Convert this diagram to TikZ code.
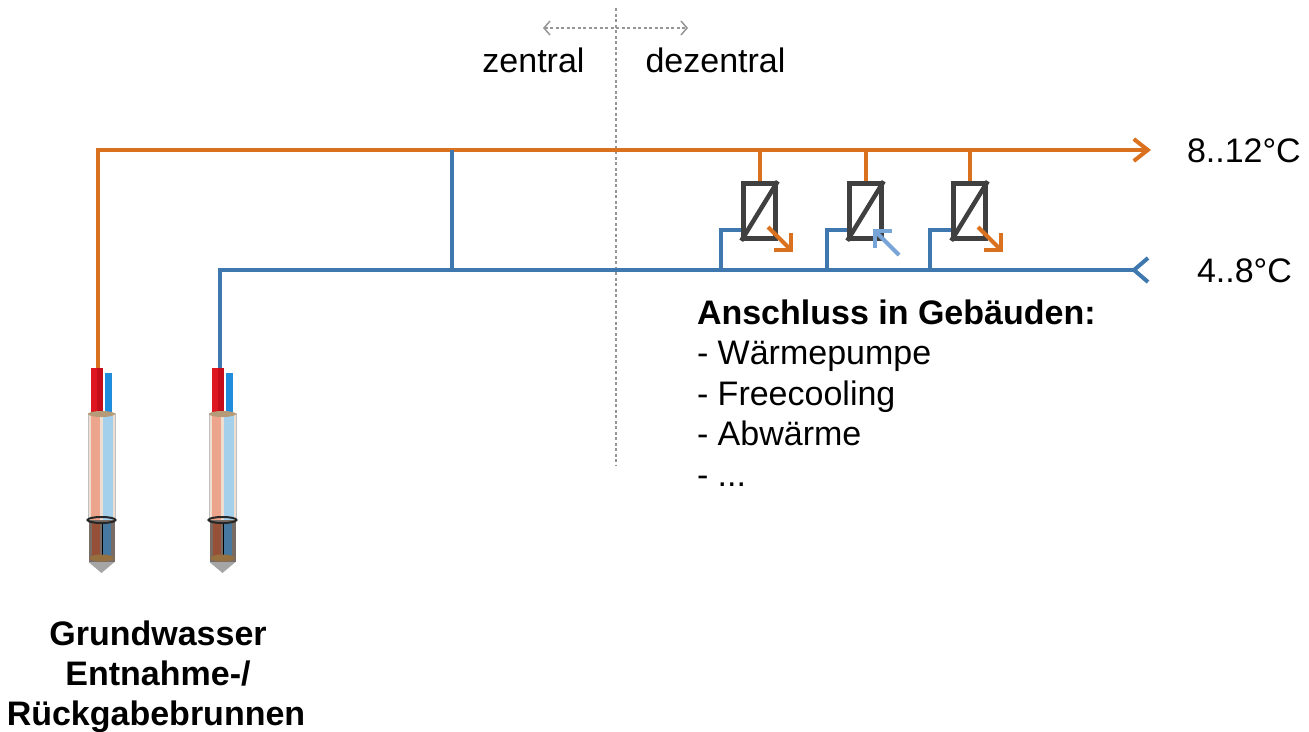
\documentclass[tikz,border=0pt]{standalone}
\usepackage{fontspec}
\setmainfont{Liberation Sans}
\usetikzlibrary{arrows.meta,calc}
\definecolor{ohot}{RGB}{217,113,31}
\definecolor{bcold}{RGB}{63,119,175}
\definecolor{hxgray}{RGB}{64,64,64}
\definecolor{lblue}{RGB}{120,165,215}
\definecolor{guidegray}{RGB}{150,150,150}
\definecolor{wred}{RGB}{222,22,32}
\definecolor{wredd}{RGB}{196,12,26}
\definecolor{wblue}{RGB}{32,140,220}
\definecolor{wbody}{RGB}{238,222,210}
\definecolor{wsalmon}{RGB}{236,165,140}
\definecolor{wsky}{RGB}{165,208,236}
\definecolor{wcup}{RGB}{120,108,100}
\definecolor{wcupred}{RGB}{150,80,55}
\definecolor{wcupblue}{RGB}{70,120,160}
\definecolor{wbrown}{RGB}{150,112,62}
\definecolor{wcone}{RGB}{165,165,165}
\tikzset{
  hot/.style={draw=ohot, line width=4pt},
  cold/.style={draw=bcold, line width=4pt},
  hxbox/.style={draw=hxgray, line width=4.5pt, minimum width=32pt, minimum height=55pt, inner sep=0pt},
  guide/.style={draw=guidegray, line width=1.5pt, dash pattern=on 3pt off 2.5pt},
  barb/.style={-{Straight Barb[length=12pt,width=24pt]}},
  lbl/.style={anchor=base, inner sep=0pt, outer sep=0pt},
  % borehole well with probe tubes, origin at the top of the tubes
  well/.pic={
    \fill[wred] (-11,0) rectangle (-5,47);
    \fill[wredd] (-4.5,0) rectangle (1.5,50);
    \fill[wblue] (3,5) rectangle (10,47);
    \fill[wbody] (-13.5,45) rectangle (13.5,152);
    \fill[wsalmon] (-11,48) rectangle (-1.5,152);
    \fill[wsky] (1,48) rectangle (11,152);
    \draw[guidegray!60, line width=0.6pt] (-13.5,45) rectangle (13.5,152);
    \fill[wbrown!70] (0,46) ellipse (13.5 and 3);
    \fill[wcup] (-13,152) -- (-13,194) -- (13,194) -- (13,152) -- cycle;
    \fill[wcupred] (-10,155) rectangle (-1.5,190);
    \fill[wcupblue] (1,155) rectangle (9,190);
    \draw[black, line width=0.8pt] (1,155) -- (1,188);
    \fill[wbrown] (0,190) ellipse (12 and 3.5);
    \fill[wcone] (-13,194) -- (0,205) -- (13,194) -- cycle;
    \draw[black!85, line width=2pt] (0,152) ellipse (14 and 3);
  }
}
\begin{document}
\begin{tikzpicture}[x=1pt,y=-1pt, font=\fontsize{34}{40}\selectfont]
\useasboundingbox (0,0) rectangle (1309,731);

% central / decentral divider
\coordinate (dTop) at (616,8);
\coordinate (dBot) at (616,465);
\coordinate (aL) at (543,28);
\coordinate (aR) at (688,28);
\draw[guide] (dTop) -- (dBot);
\draw[guide, {Straight Barb[length=6pt,width=14pt]}-{Straight Barb[length=6pt,width=14pt]}] (aL) -- (aR);
\node[lbl] (zen) at (533.5,72) {zentral};
\node[lbl] (dez) at (715.5,72) {dezentral};

% pipe network
\coordinate (oS) at (98,368);
\coordinate (oC) at (98,150);
\coordinate (oE) at (1151,150);
\coordinate (bS) at (220,375);
\coordinate (bC) at (220,270);
\coordinate (bE) at (1150,270);
\coordinate (tT) at (452,150);
\coordinate (tB) at (452,270);

\draw[hot, -{Straight Barb[length=14pt,width=22pt]}] (oS) -- (oC) -- (oE);
\draw[cold, -{Straight Barb[reversed,length=14pt,width=24pt]}] (bS) -- (bC) -- (bE);
\draw[cold] (tT) -- (tB);

% building connections
\node[hxbox] (hx1) at (759.5,211) {};
\node[hxbox] (hx2) at (865.5,211) {};
\node[hxbox] (hx3) at (969.5,211) {};
\foreach \h/\x in {hx1/721, hx2/827, hx3/930} {
  \draw[hxgray, line width=4.5pt] (\h.south west) -- (\h.north east);
  \draw[hot] (\h.north) -- (\h.north |- oC);
  \draw[cold] (\x,270) |- ($(\h.south west)+(0,-10.5)$);
}
\draw[hot, barb] ($(hx1.center)+(8.5,16)$) -- ++(25,25);
\draw[draw=lblue, line width=4pt, barb] ($(hx2.center)+(33.5,44)$) -- ++(-26,-26);
\draw[hot, barb] ($(hx3.center)+(8.5,16)$) -- ++(25,25);

% temperatures
\node[lbl, anchor=base west] (tHot) at (1187,162) {8..12°C};
\node[lbl, anchor=base west] (tCold) at (1197,282) {4..8°C};

% building list
\node[lbl, anchor=base west, font=\fontsize{34}{40}\selectfont\bfseries] (list0) at (697,324) {Anschluss in Gebäuden:};
\node[lbl, anchor=base west] (list1) at (697,364.5) {- Wärmepumpe};
\node[lbl, anchor=base west] (list2) at (697,405) {- Freecooling};
\node[lbl, anchor=base west] (list3) at (697,445.5) {- Abwärme};
\node[lbl, anchor=base west] (list4) at (697,486) {- ...};

% wells
\pic at (101.5,368) {well};
\pic at (222.5,368) {well};
\node[lbl, font=\fontsize{34}{40}\selectfont\bfseries] (w1) at (158,645) {Grundwasser};
\node[lbl, font=\fontsize{34}{40}\selectfont\bfseries] (w2) at (158,685) {Entnahme-/};
\node[lbl, font=\fontsize{34}{40}\selectfont\bfseries] (w3) at (156,725) {Rückgabebrunnen};
\end{tikzpicture}
\end{document}
